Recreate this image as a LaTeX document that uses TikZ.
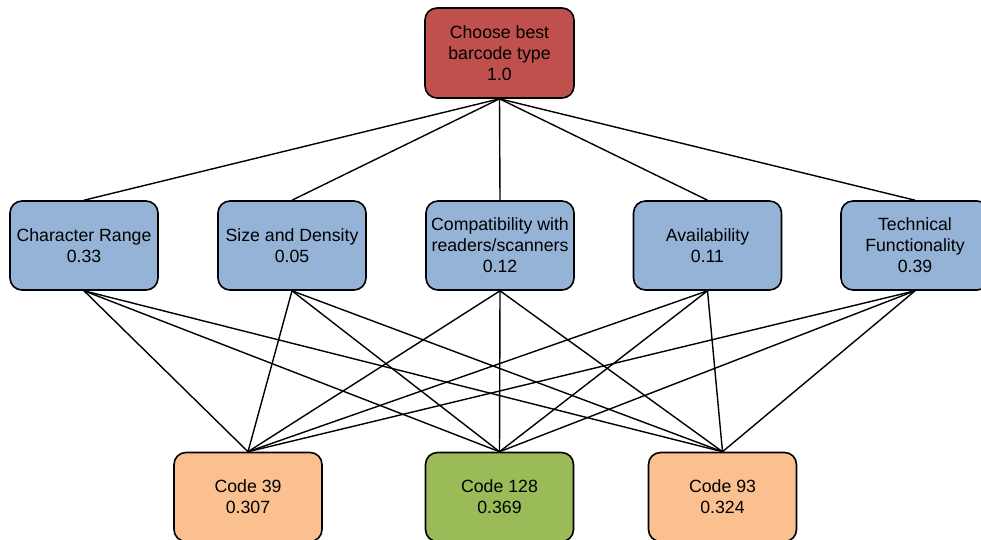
\documentclass[tikz,border=0pt]{standalone}
\usepackage{fontspec}
\setmainfont{Liberation Sans}
\definecolor{goalred}{HTML}{C0504D}
\definecolor{critblue}{HTML}{95B3D7}
\definecolor{altorange}{HTML}{FAC090}
\definecolor{altgreen}{HTML}{9BBB59}
\begin{document}
\begin{tikzpicture}[x=1pt,y=-1pt,
  box/.style={draw=black, line width=1.6pt, rounded corners=12pt,
    minimum width=148pt, minimum height=89pt, inner sep=0pt,
    align=center, font=\fontsize{17.7}{21}\selectfont},
  goal/.style={box, fill=goalred},
  crit/.style={box, fill=critblue},
  alt/.style={box, fill=altorange},
  best/.style={box, fill=altgreen},
  link/.style={line width=1.4pt, black}]
\useasboundingbox (0,0) rectangle (981,539);
\begin{scope}
\clip (0,0) rectangle (981,539);
% goal
\node[goal, minimum width=149pt, minimum height=90pt] (g) at (499.5,53) {Choose best\\barcode type\\1.0};
% criteria
\node[crit] (c1) at (84,245.5)  {Character Range\\0.33};
\node[crit] (c2) at (292,245.5) {Size and Density\\0.05};
\node[crit] (c3) at (500,245.5) {Compatibility with\\readers/scanners\\0.12};
\node[crit] (c4) at (707.5,245.5) {Availability\\0.11};
\node[crit] (c5) at (915,245.5) {Technical\\Functionality\\0.39};
% alternatives
\node[alt]  (a1) at (248,497)   {Code 39\\0.307};
\node[best] (a2) at (499.5,497) {Code 128\\0.369};
\node[alt]  (a3) at (722.5,497) {Code 93\\0.324};
% connectors
\foreach \c in {c1,c2,c3,c4,c5} {
  \draw[link] (g.south) -- (\c.north);
  \foreach \a in {a1,a2,a3}
    \draw[link] (\c.south) -- (\a.north);
}
\end{scope}
\end{tikzpicture}
\end{document}
